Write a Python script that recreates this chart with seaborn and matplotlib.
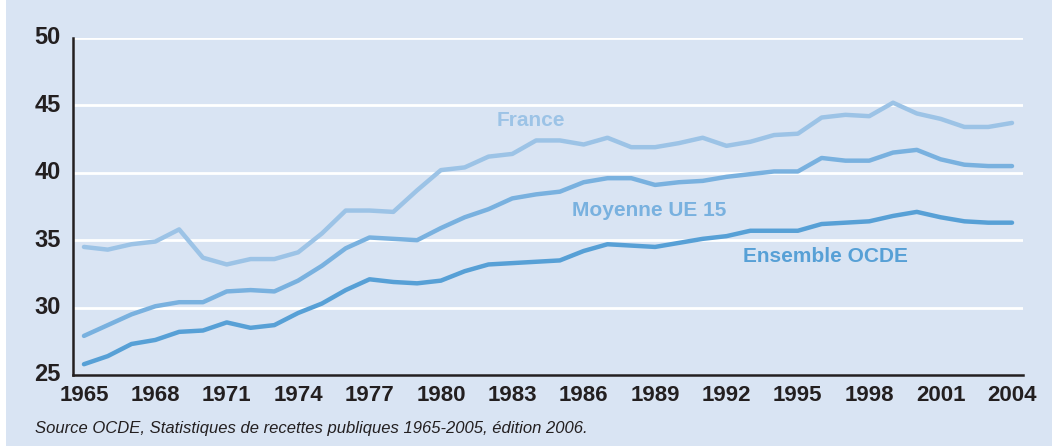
import pandas as pd
import matplotlib.pyplot as plt
import seaborn as sns
from matplotlib.patches import Rectangle

years = list(range(1965, 2005))
france = [34.5, 34.3, 34.7, 34.9, 35.8, 33.7, 33.2, 33.6, 33.6, 34.1,
          35.5, 37.2, 37.2, 37.1, 38.7, 40.2, 40.4, 41.2, 41.4, 42.4,
          42.4, 42.1, 42.6, 41.9, 41.9, 42.2, 42.6, 42.0, 42.3, 42.8,
          42.9, 44.1, 44.3, 44.2, 45.2, 44.4, 44.0, 43.4, 43.4, 43.7]
ue15 = [27.9, 28.7, 29.5, 30.1, 30.4, 30.4, 31.2, 31.3, 31.2, 32.0,
        33.1, 34.4, 35.2, 35.1, 35.0, 35.9, 36.7, 37.3, 38.1, 38.4,
        38.6, 39.3, 39.6, 39.6, 39.1, 39.3, 39.4, 39.7, 39.9, 40.1,
        40.1, 41.1, 40.9, 40.9, 41.5, 41.7, 41.0, 40.6, 40.5, 40.5]
ocde = [25.8, 26.4, 27.3, 27.6, 28.2, 28.3, 28.9, 28.5, 28.7, 29.6,
        30.3, 31.3, 32.1, 31.9, 31.8, 32.0, 32.7, 33.2, 33.3, 33.4,
        33.5, 34.2, 34.7, 34.6, 34.5, 34.8, 35.1, 35.3, 35.7, 35.7,
        35.7, 36.2, 36.3, 36.4, 36.8, 37.1, 36.7, 36.4, 36.3, 36.3]
series = ['France', 'Moyenne UE 15', 'Ensemble OCDE']
year_ticks = list(range(1965, 2005, 3))
y_ticks = [25, 30, 35, 40, 45, 50]

data = pd.DataFrame({
    'year': years * 3,
    'value': france + ue15 + ocde,
    'series': [s for s in series for _ in years],
})

bg = '#D9E4F3'
dark = '#231F20'
colors = {'France': '#9CC3E6', 'Moyenne UE 15': '#79B1DF', 'Ensemble OCDE': '#57A0D6'}

sns.set_style('white')
plt.rcParams['font.family'] = ['Liberation Sans', 'DejaVu Sans']

fig = plt.figure(figsize=(10.52, 4.46), dpi=100, facecolor=bg)
# thin white margin on the left, as in the original scan
fig.add_artist(Rectangle((0, 0), 6 / 1052, 1, transform=fig.transFigure,
                         facecolor='white', edgecolor='none'))
ax = fig.add_axes([0.0694, 0.1592, 0.9030, 0.7556])
ax.set_facecolor(bg)

for y in y_ticks[1:]:
    ax.axhline(y, color='white', linewidth=2, zorder=1)

sns.lineplot(data=data, x='year', y='value', hue='series', palette=colors,
             linewidth=3.2, ax=ax, legend=False, zorder=3)
for line in ax.lines:
    line.set_solid_capstyle('round')

ax.set_xlim(1964.54, 2004.46)
ax.set_ylim(25, 50)
ax.set_xticks(year_ticks)
ax.set_xticks(years, minor=True)
ax.set_yticks(y_ticks)
ax.set_xlabel('')
ax.set_ylabel('')
for s in ['top', 'right']:
    ax.spines[s].set_visible(False)
for s in ['left', 'bottom']:
    ax.spines[s].set_color(dark)
    ax.spines[s].set_linewidth(1.8)
ax.tick_params(axis='x', which='both', direction='in', length=8, width=1.2,
               color=dark, pad=7)
ax.tick_params(axis='y', length=0, pad=9)
for lbl in ax.get_xticklabels():
    lbl.set_fontsize(16)
    lbl.set_fontweight('bold')
    lbl.set_color(dark)
for lbl in ax.get_yticklabels():
    lbl.set_fontsize(17)
    lbl.set_fontweight('bold')
    lbl.set_color(dark)
    lbl.set_verticalalignment('center')

ax.text(1983.8, 43.9, 'France', color=colors['France'], fontsize=15,
        fontweight='bold', ha='center', va='center')
ax.text(1985.5, 37.2, 'Moyenne UE 15', color=colors['Moyenne UE 15'], fontsize=15,
        fontweight='bold', ha='left', va='center')
ax.text(1992.7, 33.8, 'Ensemble OCDE', color=colors['Ensemble OCDE'], fontsize=15,
        fontweight='bold', ha='left', va='center')

fig.text(0.033, 0.03, 'Source OCDE, Statistiques de recettes publiques 1965-2005, édition 2006.',
         style='italic', fontsize=12, color=dark)

plt.savefig('out.png', dpi=100, facecolor=bg)
